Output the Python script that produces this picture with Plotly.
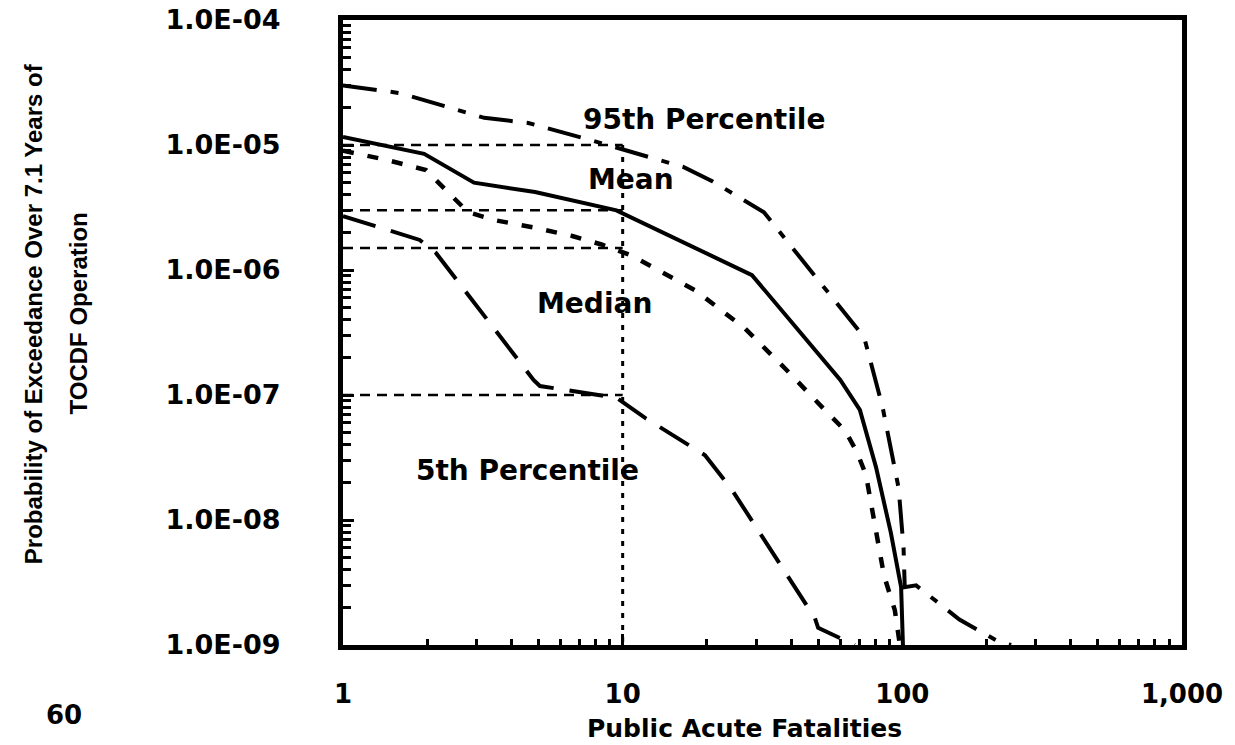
import plotly.graph_objects as go
import math

# ---- data ----
p95_x = [1, 1.6, 3.2, 4.6, 7.1, 16.4, 21, 32, 49, 73, 85, 97, 101, 102, 112, 133, 160, 223, 245]
p95_y = [3.0e-5, 2.6e-5, 1.65e-5, 1.5e-5, 1.15e-5, 6.7e-6, 5.1e-6, 2.9e-6, 8.8e-7, 2.9e-7,
         8.0e-8, 1.8e-8, 6.0e-9, 2.9e-9, 3.0e-9, 2.2e-9, 1.6e-9, 1.05e-9, 1.0e-9]

mean_x = [1, 1.95, 2.94, 4.86, 9.5, 29, 60, 70.5, 80.5, 91, 99, 100.5]
mean_y = [1.16e-5, 8.5e-6, 5.0e-6, 4.2e-6, 3.0e-6, 9.1e-7, 1.32e-7, 7.6e-8, 2.65e-8, 7.9e-9, 2.9e-9, 1.0e-9]

median_x = [1, 1.43, 1.98, 2.33, 2.8, 3.5, 4.9, 6.6, 8.4, 10.8, 18.3, 27.4, 38.4, 53.4, 62.4,
            68.8, 74.1, 79.8, 86, 94, 97.2, 98]
median_y = [9e-6, 7.6e-6, 6.3e-6, 4.4e-6, 2.9e-6, 2.5e-6, 2.17e-6, 1.87e-6, 1.6e-6, 1.3e-6,
            6.8e-7, 3.4e-7, 1.6e-7, 7.4e-8, 5.2e-8, 3.5e-8, 2.3e-8, 9.1e-9, 3.6e-9, 1.9e-9,
            1.1e-9, 1.0e-9]

p5_x = [1, 1.45, 1.88, 2.15, 3.67, 4.8, 5.06, 9.5, 12.1, 19.7, 24.6, 48.7, 50, 64.4, 67.6]
p5_y = [2.7e-6, 2.1e-6, 1.74e-6, 1.37e-6, 2.9e-7, 1.32e-7, 1.18e-7, 9.5e-8, 6.5e-8, 3.3e-8,
        1.74e-8, 1.64e-9, 1.37e-9, 1.04e-9, 1.0e-9]

# reference read-offs at 10 fatalities
ref_x = 10
ref_levels = [1e-5, 3e-6, 1.5e-6, 1e-7]

x_tickvals = [1, 10, 100, 1000]
x_ticktext = ["1", "10", "100", "1,000"]
y_tickvals = [1e-9, 1e-8, 1e-7, 1e-6, 1e-5, 1e-4]
y_ticktext = ["1.0E-09", "1.0E-08", "1.0E-07", "1.0E-06", "1.0E-05", "1.0E-04"]

curve_labels = ["95th Percentile", "Mean", "Median", "5th Percentile"]
label_x = [19.6, 10.7, 7.96, 4.58]
label_y = [1.6e-5, 5.3e-6, 5.4e-7, 2.5e-8]

page_number = "60"
x_title = "Public Acute Fatalities"
y_title_lines = ["Probability of Exceedance Over 7.1 Years of", "TOCDF Operation"]

# ---- figure ----
fig = go.Figure()

for lv in ref_levels:
    fig.add_trace(go.Scatter(x=[1, ref_x], y=[lv, lv], mode="lines",
                             line=dict(color="black", width=2.5, dash="10px,7px"),
                             showlegend=False, hoverinfo="skip"))
fig.add_trace(go.Scatter(x=[ref_x, ref_x], y=[ref_levels[0], 1e-9], mode="lines",
                         line=dict(color="black", width=3, dash="5px,7px"),
                         showlegend=False, hoverinfo="skip"))

fig.add_trace(go.Scatter(x=p95_x, y=p95_y, mode="lines", name="95th Percentile",
                         line=dict(color="black", width=4, dash="34px,14px,8px,14px")))
fig.add_trace(go.Scatter(x=mean_x, y=mean_y, mode="lines", name="Mean",
                         line=dict(color="black", width=4)))
fig.add_trace(go.Scatter(x=median_x, y=median_y, mode="lines", name="Median",
                         line=dict(color="black", width=4.5, dash="11px,14px")))
fig.add_trace(go.Scatter(x=p5_x, y=p5_y, mode="lines", name="5th Percentile",
                         line=dict(color="black", width=4, dash="34px,16px")))

bold = dict(family="DejaVu Sans", size=26, color="black", weight="bold")

for t, lx, ly in zip(curve_labels, label_x, label_y):
    fig.add_annotation(x=math.log10(lx), y=math.log10(ly), xref="x", yref="y", text=t,
                       showarrow=False, xanchor="center", yanchor="middle",
                       font=dict(family="DejaVu Sans", size=28, color="black", weight="bold"))

fig.add_annotation(x=0.478, y=-0.1328, xref="paper", yref="paper",
                   text=x_title, showarrow=False, xanchor="center", yanchor="middle",
                   font=dict(family="DejaVu Sans", size=25, color="black", weight="bold"))
fig.add_annotation(x=-0.3325, y=-0.112, xref="paper", yref="paper",
                   text=page_number, showarrow=False, xanchor="center", yanchor="middle",
                   font=dict(family="DejaVu Sans", size=26, color="black", weight="bold"))
narrow = dict(family="Liberation Sans, Arial, sans-serif", size=24, color="black",
              weight="bold")
for txt, px in zip(y_title_lines, [-0.369, -0.315]):
    fig.add_annotation(x=px, y=0.53, xref="paper", yref="paper", textangle=-90,
                       text=txt, showarrow=False, xanchor="center", yanchor="middle",
                       font=narrow)

def minor_vals(lo, hi):
    return [m * 10.0 ** k for k in range(lo, hi) for m in range(2, 10)]

axis_common = dict(type="log", showgrid=False, zeroline=False, showline=True,
                   linecolor="black", linewidth=5, mirror=True, automargin=False,
                   ticks="inside", ticklen=11, tickwidth=3, tickcolor="black",
                   ticklabelposition="outside", ticklabeloverflow="allow")

fig.update_xaxes(range=[0, 3], tickvals=x_tickvals, ticktext=x_ticktext,
                 ticklabelstandoff=22, tickfont=bold,
                 minor=dict(ticks="inside", ticklen=6, tickwidth=2.5, tickcolor="black",
                            tickvals=minor_vals(0, 3), showgrid=False),
                 **axis_common)
fig.update_yaxes(range=[-9, -4], tickvals=y_tickvals, ticktext=y_ticktext,
                 ticklabelstandoff=52,
                 tickfont=dict(family="DejaVu Sans", size=27, color="black", weight="bold"),
                 minor=dict(ticks="inside", ticklen=8, tickwidth=3, tickcolor="black",
                            tickvals=minor_vals(-9, -4), showgrid=False),
                 **axis_common)

fig.update_layout(width=1235, height=745, autosize=False,
                  margin=dict(l=343, r=53, t=20, b=100),
                  paper_bgcolor="white", plot_bgcolor="white",
                  showlegend=False)

# remove the browser's default 8px page margin so the figure fills the window
fig.write_html("out.html",
               config={"displayModeBar": False},
               post_script="document.body.style.margin='0';"
                           "document.body.style.overflow='hidden';")
